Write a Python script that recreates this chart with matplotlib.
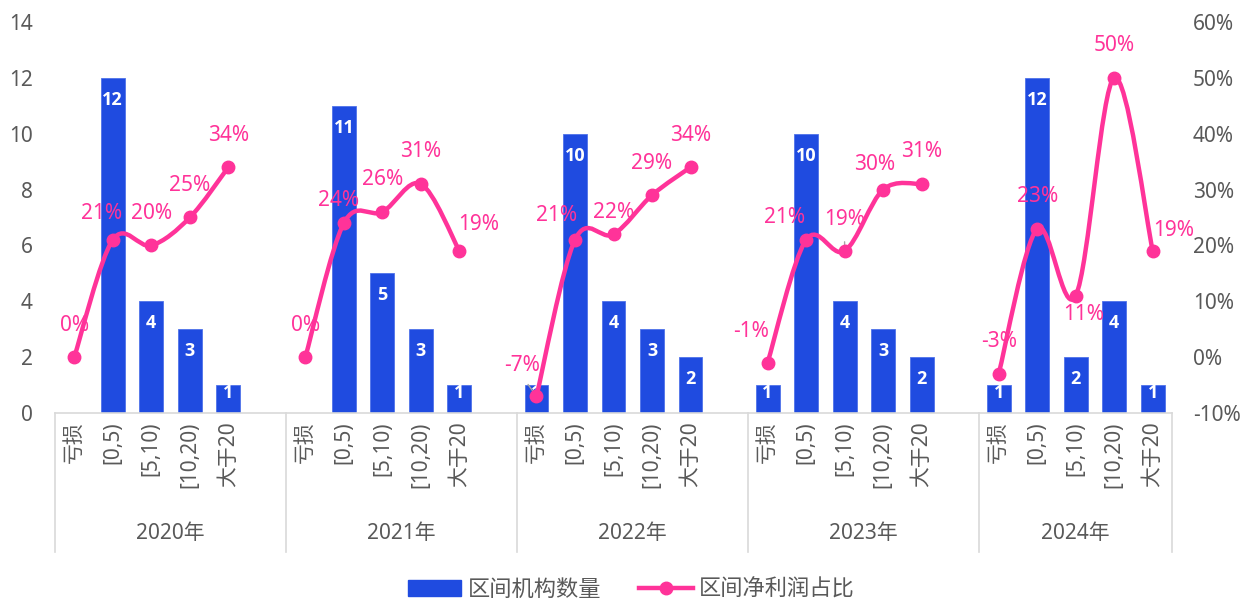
import numpy as np
import matplotlib.pyplot as plt
from matplotlib.path import Path
from matplotlib.patches import PathPatch, Patch
from matplotlib.lines import Line2D
import matplotlib.transforms as mtransforms

plt.rcParams['font.family'] = ['Noto Sans', 'Noto Sans CJK SC', 'DejaVu Sans']

years = ["2020年", "2021年", "2022年", "2023年", "2024年"]
bins = ["亏损", "[0,5)", "[5,10)", "[10,20)", "大于20"]

# 区间机构数量
count_2020 = [0, 12, 4, 3, 1]
count_2021 = [0, 11, 5, 3, 1]
count_2022 = [1, 10, 4, 3, 2]
count_2023 = [1, 10, 4, 3, 2]
count_2024 = [1, 12, 2, 4, 1]

# 区间净利润占比 (%)
pct_2020 = [0, 21, 20, 25, 34]
pct_2021 = [0, 24, 26, 31, 19]
pct_2022 = [-7, 21, 22, 29, 34]
pct_2023 = [-1, 21, 19, 30, 31]
pct_2024 = [-3, 23, 11, 50, 19]

counts = [count_2020, count_2021, count_2022, count_2023, count_2024]
pcts = [pct_2020, pct_2021, pct_2022, pct_2023, pct_2024]

# label offsets in pixels (dx, dy), default is straight above
label_off = {(0, 1): (-11, 26),
             (1, 1): (-5, 23), (1, 4): (19, 27),
             (2, 0): (-14, 31), (2, 1): (-18, 24), (2, 2): (0, 22),
             (3, 0): (-17, 31), (3, 1): (-22, 22), (3, 3): (-8, 25),
             (4, 2): (8, -19), (4, 4): (21, 21)}

blue = "#1F4BE0"
pink = "#FF3399"
grey = "#595959"
slot = 6  # 5 categories + 1 empty slot between years

fig = plt.figure(figsize=(12.43, 6.01), dpi=100)
ax1 = fig.add_axes([55/1243, 1-413/601, 1117/1243, 391/601])
ax2 = ax1.twinx()

xs_all, labels_all = [], []
for g in range(len(years)):
    x = np.arange(5) + g*slot
    xs_all += list(x)
    labels_all += bins
    ax1.bar(x, counts[g], width=0.62, color=blue, edgecolor="#4F72EA", linewidth=0.6, zorder=2)
    for xi, v in zip(x, counts[g]):
        if v > 0:
            off = -22 if v > 1 else -8
            ax1.annotate(str(v), (xi, v), xytext=(0, off), textcoords="offset pixels",
                         ha="center", va="center", color="white", fontsize=13,
                         fontweight="bold", family=["Open Sans", "DejaVu Sans"], zorder=3)

    # smoothed line (cubic bezier through the points, Catmull-Rom control points)
    p = np.column_stack([x, pcts[g]]).astype(float)
    pts = np.vstack([p[0], p, p[-1]])
    verts = [tuple(p[0])]
    codes = [Path.MOVETO]
    for i in range(1, len(pts)-2):
        p0, p1, p2, p3 = pts[i-1], pts[i], pts[i+1], pts[i+2]
        c1 = p1 + (p2 - p0)/6
        c2 = p2 - (p3 - p1)/6
        verts += [tuple(c1), tuple(c2), tuple(p2)]
        codes += [Path.CURVE4]*3
    ax2.add_patch(PathPatch(Path(verts, codes), facecolor="none", edgecolor=pink, lw=3.2,
                            capstyle="round", zorder=4))
    ax2.plot(x, pcts[g], "o", color=pink, ms=9, zorder=5)
    for k, (xi, v) in enumerate(zip(x, pcts[g])):
        dx, dy = label_off.get((g, k), (0, 32))
        ax2.annotate(f"{v}%", (xi, v), xytext=(dx, dy), textcoords="offset pixels",
                     ha="center", va="center", color=pink, fontsize=15, zorder=6)

# leader lines for crowded labels
ax2.annotate("", (2*slot, -7), xytext=(-10, 14), textcoords="offset pixels",
             arrowprops=dict(arrowstyle="-", color="#A6A6A6", lw=1))
ax2.annotate("", (3*slot + 2, 19), xytext=(0, 12), textcoords="offset pixels",
             arrowprops=dict(arrowstyle="-", color="#A6A6A6", lw=1))

ax1.set_xlim(-0.5, len(years)*slot - 1.5)
ax1.set_ylim(0, 14)
ax1.set_yticks(range(0, 15, 2))
ax2.set_ylim(-10, 60)
ax2.set_yticks(range(-10, 61, 10))
ax2.set_yticklabels([f"{t}%" for t in range(-10, 61, 10)])

ax1.set_xticks(xs_all)
ax1.set_xticklabels(labels_all, rotation=90, color=grey, fontsize=15)
ax1.tick_params(axis="x", length=0, pad=6)
ax1.tick_params(axis="y", length=0, labelcolor=grey, labelsize=15, pad=16)
ax2.tick_params(axis="y", length=0, labelcolor=grey, labelsize=15, pad=15)

for a in (ax1, ax2):
    for s in a.spines.values():
        s.set_visible(False)
ax1.spines["bottom"].set_visible(True)
ax1.spines["bottom"].set_color("#D9D9D9")
ax1.spines["bottom"].set_linewidth(1.2)

# year level of the axis
trans = mtransforms.blended_transform_factory(ax1.transData, ax1.transAxes)
bounds = [g*slot - 0.5 for g in range(len(years))] + [len(years)*slot - 1.5]
for xb in bounds:
    ax1.plot([xb, xb], [0, -0.355], transform=trans, color="#D9D9D9", lw=1.2, clip_on=False)
for g, y in enumerate(years):
    xc = (bounds[g] + bounds[g+1]) / 2
    ax1.text(xc, -0.308, y, transform=trans, ha="center", va="center",
             color=grey, fontsize=15)

handles = [Patch(facecolor=blue, edgecolor=blue),
           Line2D([], [], color=pink, lw=3.2, marker="o", ms=9)]
fig.legend(handles, ["区间机构数量", "区间净利润占比"], loc="center", bbox_to_anchor=(0.508, 0.018),
           ncol=2, frameon=False, fontsize=16, handlelength=2.4, columnspacing=1.7,
           handletextpad=0.3, labelcolor=grey)

fig.savefig("out.png", dpi=100)
